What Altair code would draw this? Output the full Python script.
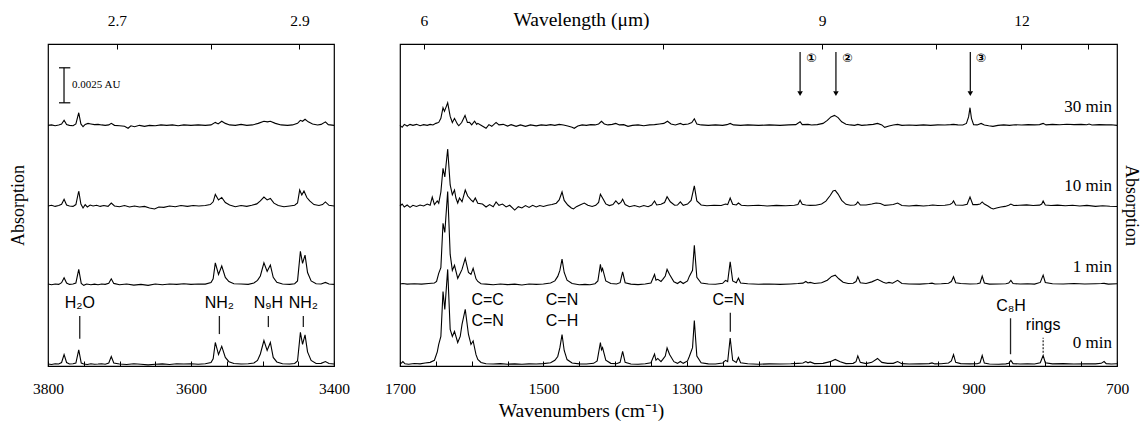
import json
import altair as alt
import pandas as pd

# ---------------- data (absorbance in 1e-4 AU) ----------------
left_0min = [(3800, 0.3), (3795, 0.0), (3790, 0.5), (3785, 0.3), (3781, 1.4), (3777.5, 7.1), (3774, 1.4), (3770, 0.3),
             (3765, 0.5), (3761, 1.0), (3757, 10.4), (3753.5, 1.0), (3750, 0.3), (3745, 0.0), (3740, 0.5), (3735, 0.2),
             (3730, 0.3), (3725, 0.5), (3720, 0.2), (3715, 1.0), (3711.5, 5.7), (3708, 1.0), (3700, 0.3), (3690, 0.0),
             (3680, 0.5), (3670, 0.2), (3660, -0.3), (3650, 0.2), (3640, 0.4), (3630, 0.0), (3620, 0.5), (3610, 0.3),
             (3600, 0.5), (3590, 0.2), (3580, 0.5), (3572, 1.4), (3569, 4.0), (3566, 15.7), (3561.5, 7.1), (3557, 12.9),
             (3552, 5.0), (3547, 2.0), (3540, 0.7), (3530, 0.3), (3520, 0.5), (3512, 1.0), (3507, 2.9), (3503, 7.5),
             (3498, 17.1), (3493.5, 10.0), (3489, 15.7), (3485, 5.0), (3480, 1.8), (3472, 0.5), (3462, 0.3), (3455, 0.7),
             (3451, 2.5), (3447, 22.9), (3444, 14.3), (3440.5, 21.1), (3437, 9.0), (3432, 2.9), (3425, 0.7), (3418, 0.8),
             (3412, 2.1), (3407, 0.7), (3400, 0.3)]
left_1min = [(3800, 0.3), (3795, -0.3), (3790, 0.3), (3785, 0.0), (3781, 1.2), (3777.5, 4.8), (3774, 1.0), (3770, 0.0),
             (3765, 0.3), (3761, 1.0), (3757, 10.7), (3753.5, 0.7), (3750, -0.7), (3746, 0.3), (3740, -0.3), (3735, 0.2),
             (3730, -0.3), (3725, 0.3), (3720, 0.0), (3715, 0.8), (3711.5, 4.0), (3708, 0.7), (3700, -0.3), (3690, 0.3),
             (3680, -0.5), (3670, 0.0), (3660, -0.7), (3650, 0.3), (3640, -0.3), (3630, 0.3), (3620, 0.0), (3610, 0.5),
             (3600, 0.0), (3590, 0.3), (3580, 0.2), (3572, 1.4), (3569, 4.0), (3566, 15.4), (3561.5, 7.1), (3557, 13.1),
             (3552, 5.0), (3547, 2.0), (3540, 0.5), (3530, 0.3), (3520, 0.0), (3512, 1.0), (3507, 2.9), (3503, 6.0),
             (3498, 15.4), (3493.5, 9.3), (3489, 13.8), (3485, 5.0), (3480, 1.5), (3472, 0.3), (3462, 0.0), (3455, 0.5),
             (3451, 2.5), (3447, 23.6), (3444, 15.0), (3440.5, 20.9), (3437, 8.5), (3432, 2.5), (3425, 0.5), (3418, 0.3),
             (3412, 1.4), (3407, 0.3), (3400, 0.0)]
left_10min = [(3800, 0.0), (3795, 0.5), (3790, -0.3), (3785, 0.3), (3781, 1.2), (3777.5, 4.8), (3774, 0.7), (3770, 0.0),
              (3765, -0.3), (3761, 1.0), (3757, 10.7), (3754, 1.4), (3751, -1.4), (3748, 1.0), (3745, -0.7), (3741, 0.7),
              (3737, 0.0), (3732, 0.5), (3727, -0.3), (3722, 0.3), (3716, -0.3), (3711.5, 2.1), (3707, 0.0), (3700, -0.5),
              (3693, 0.3), (3686, -0.7), (3679, 0.0), (3672, -0.7), (3665, -0.3), (3658, -1.4), (3651, -2.1), (3645, -0.7),
              (3638, -1.0), (3630, 0.0), (3622, -0.5), (3614, 0.3), (3605, -0.3), (3597, 0.3), (3589, 0.0), (3580, 0.3),
              (3573, 1.0), (3569, 3.0), (3566, 8.3), (3561.5, 4.3), (3557, 6.1), (3552, 2.5), (3546, 0.7), (3538, -0.5),
              (3530, 0.3), (3522, -0.3), (3515, 0.5), (3508, 1.5), (3503, 3.6), (3498, 6.4), (3493.5, 4.3), (3489, 5.4),
              (3484, 2.0), (3478, 0.3), (3470, -0.5), (3462, 0.0), (3455, 0.5), (3451, 2.1), (3448, 11.4), (3445, 7.9),
              (3442, 10.7), (3438, 6.0), (3434, 3.6), (3428, 1.0), (3421, 0.3), (3416, 1.0), (3412, 2.9), (3407, 0.5),
              (3400, 0.0)]
left_30min = [(3800, 0.0), (3795, 0.3), (3790, -0.3), (3785, 0.3), (3781, 1.0), (3777.5, 3.6), (3774, 0.5), (3770, 0.0),
              (3765, -0.3), (3761, 1.0), (3757, 9.0), (3754, 1.0), (3751, -1.0), (3748, 0.7), (3744, 1.4), (3740, 1.0),
              (3735, 0.5), (3730, 0.7), (3725, 0.3), (3720, 0.0), (3715, 0.3), (3711.5, 1.4), (3707, 0.0), (3700, -0.3),
              (3693, -0.7), (3688, -2.1), (3684, -0.3), (3679, -1.0), (3672, 0.0), (3665, -0.7), (3658, 0.0), (3650, -0.3),
              (3642, 0.3), (3634, 0.0), (3626, 0.3), (3618, -0.3), (3610, 0.3), (3600, 0.0), (3590, 0.3), (3580, 0.0),
              (3572, 0.3), (3566, 2.1), (3562, 1.0), (3557, 2.9), (3552, 1.4), (3546, 0.3), (3538, 0.0), (3530, 0.7),
              (3522, 0.0), (3514, 0.3), (3506, 1.4), (3498, 2.9), (3493, 2.5), (3489, 2.9), (3482, 1.4), (3474, 0.3),
              (3465, 0.0), (3458, 0.3), (3451, 1.4), (3447, 3.6), (3444, 2.9), (3440.5, 4.3), (3436, 2.5), (3430, 1.0),
              (3423, 0.3), (3418, 0.7), (3412, 2.5), (3408, 0.5), (3400, 0.0)]

right_0min = [(1700, 0.5), (1698, 1.0), (1696, 2.1), (1693, 0.5), (1688, 0.2), (1680, 0.7), (1672, 0.4), (1665, 1.0),
              (1658, 1.5), (1652, 3.0), (1648, 9.0), (1646, 14.3), (1643, 20.0), (1640, 52.1), (1637.5, 39.3),
              (1633.5, 67.9), (1630, 25.0), (1627, 20.0), (1624, 23.6), (1619.5, 15.7), (1616, 20.0), (1613.5, 28.6),
              (1609, 39.3), (1604.5, 21.4), (1601, 14.3), (1598, 16.8), (1594, 7.0), (1591.5, 3.6), (1587, 1.4),
              (1580, 0.5), (1570, 0.3), (1560, 0.6), (1550, 0.2), (1540, 0.4), (1530, 0.2), (1520, 0.4), (1510, 0.3),
              (1500, 0.6), (1490, 1.2), (1484, 3.0), (1480, 5.7), (1477, 12.0), (1474, 21.4), (1471, 10.0), (1467, 3.5),
              (1460, 1.0), (1450, 0.4), (1440, 0.3), (1430, 0.8), (1425, 2.5), (1420.5, 15.7), (1419, 10.5),
              (1417.5, 12.1), (1413, 3.0), (1406, 0.8), (1398, 0.5), (1393, 1.5), (1389.5, 9.3), (1386, 1.5), (1378, 0.3),
              (1368, 0.2), (1358, 0.5), (1350, 1.2), (1345, 7.5), (1343, 3.0), (1340.5, 4.3), (1336, 2.0), (1333.5, 3.6),
              (1330, 6.0), (1327.5, 11.8), (1324, 7.1), (1318, 2.0), (1313, 0.8), (1309, 2.1), (1305, 0.8), (1299, 2.5),
              (1296.5, 5.7), (1292, 12.0), (1289.5, 31.4), (1286, 6.0), (1280, 1.2), (1270, 0.4), (1260, 0.3),
              (1250, 1.0), (1246, 2.9), (1243, 2.0), (1239.5, 18.9), (1236, 3.0), (1231, 1.5), (1228, 5.0), (1225, 1.2),
              (1215, 0.5), (1200, 0.2), (1185, 0.4), (1170, 0.3), (1155, 0.5), (1145, 0.8), (1138, 1.0), (1134, 2.1),
              (1131, 1.2), (1128, 1.8), (1122, 0.6), (1110, 0.8), (1100, 2.0), (1093, 3.6), (1086, 2.0), (1078, 0.6),
              (1068, 0.8), (1064, 2.0), (1061.5, 6.1), (1058, 1.5), (1050, 0.6), (1042, 1.5), (1034, 4.3), (1028, 1.5),
              (1020, 0.8), (1012, 0.8), (1006, 2.1), (1000, 0.6), (990, 0.3), (975, 0.4), (962, 0.6), (958, 1.1),
              (954, 0.4), (945, 0.5), (935, 1.0), (931, 2.5), (928, 7.1), (925, 1.5), (918, 0.6), (905, 0.4), (895, 0.5),
              (891, 1.2), (888, 6.4), (885, 1.0), (878, 0.3), (865, 0.2), (855, 0.4), (851, 0.8), (848, 2.9), (845, 0.6),
              (835, 0.3), (825, 0.5), (815, 0.3), (807, 1.2), (803, 6.4), (800, 1.2), (790, 0.4), (775, 0.6), (760, 0.3),
              (745, 0.5), (730, 0.4), (722, 0.8), (718, 2.1), (715, 0.6), (708, 0.3), (700, 0.5)]
right_1min = [(1700, 0.3), (1696, 0.6), (1690, 0.2), (1680, 0.5), (1670, 0.2), (1660, 0.6), (1652, 1.0), (1649, 2.1),
              (1646, 7.9), (1643, 12.0), (1640, 43.6), (1637.5, 37.1), (1633.5, 66.4), (1630, 21.4), (1627, 10.0),
              (1624, 13.6), (1619.5, 4.3), (1616, 8.0), (1613.5, 10.7), (1609, 18.6), (1604.5, 8.6), (1601, 7.1),
              (1598, 11.4), (1594, 4.0), (1591.5, 2.1), (1587, 0.5), (1580, 0.2), (1570, -0.3), (1560, 0.3),
              (1550, -0.2), (1540, 0.2), (1530, -0.4), (1520, 0.3), (1510, 0.0), (1500, 0.3), (1490, 1.0), (1484, 2.5),
              (1480, 5.7), (1477, 10.0), (1474, 18.1), (1471, 8.5), (1467, 3.0), (1460, 0.6), (1450, -0.3), (1442, 0.0),
              (1435, -0.3), (1428, 0.5), (1424, 2.5), (1420.5, 14.3), (1419, 9.5), (1417.5, 11.4), (1413, 2.5),
              (1406, 0.6), (1398, 0.3), (1393, 1.2), (1389.5, 9.0), (1386, 1.2), (1378, 0.2), (1368, -0.2), (1358, 0.3),
              (1350, 1.0), (1345, 7.1), (1343, 3.0), (1340.5, 3.6), (1336, 2.1), (1333.5, 3.6), (1330, 6.0),
              (1327.5, 10.7), (1324, 7.1), (1318, 1.8), (1313, 0.6), (1309, 2.1), (1305, 0.6), (1299, 2.5),
              (1296.5, 5.7), (1292, 10.0), (1289.5, 27.9), (1286, 5.0), (1280, 1.0), (1270, 0.3), (1260, 0.1),
              (1250, 0.8), (1246, 2.9), (1243, 2.0), (1239.5, 16.1), (1236, 2.5), (1231, 1.2), (1228, 4.3), (1225, 1.0),
              (1215, 0.4), (1200, 0.1), (1185, 0.3), (1170, 0.0), (1155, 0.3), (1145, 0.6), (1138, 0.9), (1134, 2.1),
              (1131, 1.0), (1128, 1.4), (1122, 0.6), (1112, 1.2), (1104, 3.0), (1098, 5.7), (1093, 6.6), (1088, 4.0),
              (1082, 1.5), (1075, 0.6), (1068, 0.8), (1064, 2.0), (1061.5, 5.4), (1058, 1.2), (1050, 0.6), (1042, 1.8),
              (1034, 3.6), (1026, 1.5), (1022, 0.8), (1018, 1.4), (1013, 0.8), (1006, 2.9), (1000, 0.6), (990, 0.3),
              (975, 0.2), (962, 0.6), (958, 0.9), (954, 0.3), (945, 0.4), (935, 0.8), (931, 2.0), (928, 5.4), (925, 1.2),
              (918, 0.6), (905, 0.3), (895, 0.4), (891, 1.0), (888, 5.9), (885, 1.0), (878, 0.2), (865, 0.3), (855, 0.5),
              (851, 0.9), (848, 2.9), (845, 0.6), (835, 0.3), (825, 0.5), (815, 0.2), (807, 1.4), (803, 6.6), (800, 1.4),
              (790, 0.5), (775, 0.3), (760, 0.6), (745, 0.3), (730, 0.5), (722, 0.6), (718, 0.7), (712, 0.2), (700, 0.4)]
right_10min = [(1700, 0.0), (1697, 1.4), (1694, -0.7), (1690, 0.7), (1686, -1.0), (1682, 0.5), (1677, -0.3), (1672, 0.7),
               (1667, 0.0), (1662, 1.4), (1658, 0.5), (1655, 6.4), (1652, 1.0), (1648, 3.6), (1646, 2.0), (1643, 10.0),
               (1640, 26.9), (1637.5, 20.7), (1633.5, 40.7), (1630, 15.0), (1627, 8.0), (1624, 11.4), (1622, 5.7),
               (1619.5, 2.1), (1617, 5.7), (1613.5, 3.0), (1609, 11.4), (1605.6, 7.1), (1601, 4.3), (1598, 3.0),
               (1595, 5.7), (1591.5, 2.0), (1585, 1.4), (1580, -0.7), (1575, 1.0), (1570, -0.5), (1566, 2.9), (1562, 0.5),
               (1557, 1.4), (1552, -0.7), (1547, 0.5), (1540, -2.9), (1535, -0.5), (1530, -1.4), (1525, 0.3),
               (1520, -1.0), (1515, 0.5), (1510, -0.7), (1505, 0.3), (1500, -0.4), (1494, 0.5), (1488, 1.0), (1482, 2.0),
               (1478, 4.3), (1474, 10.0), (1471, 4.0), (1466, 0.7), (1461, -1.4), (1458, -2.1), (1454, -0.5), (1449, 0.7),
               (1443, 2.1), (1438, 0.5), (1432, -0.4), (1427, 0.5), (1423, 2.5), (1420.5, 8.4), (1417.5, 5.7),
               (1413, 1.5), (1408, 0.3), (1403, 1.0), (1399, 3.6), (1395, 1.4), (1392, 2.5), (1389.5, 4.8), (1386, 1.0),
               (1380, -0.5), (1373, 0.3), (1366, -0.7), (1360, 0.3), (1354, -0.5), (1349, 0.7), (1345, 3.6), (1342, 0.7),
               (1336, 1.2), (1331, 2.5), (1327.5, 6.6), (1323, 3.0), (1317, 0.5), (1313, 0.7), (1309, 2.9), (1305, 0.5),
               (1299, 1.4), (1294, 4.0), (1289.5, 14.3), (1286, 3.6), (1280, 0.7), (1272, 0.2), (1262, 0.5), (1252, 0.3),
               (1246, 1.4), (1243, 1.0), (1239.5, 5.7), (1236, 1.2), (1231, 0.7), (1228, 2.1), (1224, 0.5), (1215, 0.2),
               (1200, 0.5), (1188, 0.0), (1175, 0.4), (1162, 0.2), (1150, 0.5), (1145, 1.0), (1142, 4.1), (1139, 1.2),
               (1134, 0.7), (1128, 0.4), (1120, 0.5), (1112, 1.4), (1106, 3.5), (1100, 7.5), (1096, 10.7), (1093, 11.2),
               (1089, 8.5), (1084, 4.0), (1078, 1.2), (1072, 0.5), (1066, 0.7), (1064, 1.2), (1061.5, 2.9), (1058, 0.7),
               (1050, 0.7), (1042, 1.4), (1036, 2.1), (1030, 1.8), (1024, 0.4), (1018, 0.7), (1012, 1.0), (1006, 2.1),
               (1000, 0.3), (990, 0.0), (980, 0.4), (970, 0.0), (962, 0.3), (957, 0.7), (950, 0.3), (940, 0.5), (933, 1.0),
               (930, 2.0), (928, 3.6), (925, 0.7), (915, 0.5), (909, 1.2), (905, 6.4), (901, 1.0), (895, 1.0), (891, 1.4),
               (888, 2.9), (885, 1.4), (880, 0.0), (876, -1.4), (872.5, -2.1), (868, -1.4), (862, -0.7), (856, -0.3),
               (851, 0.5), (848, 1.4), (844, 0.3), (836, 0.5), (826, 0.8), (817, 0.3), (808, 0.6), (805, 1.4), (803, 3.6),
               (800, 0.7), (792, 0.3), (783, 0.6), (772, 0.2), (762, 0.5), (752, 0.0), (742, 0.4), (730, -0.3), (720, 0.2),
               (710, -0.2), (700, -0.4)]
right_30min = [(1700, 0.0), (1697, -1.4), (1694, 0.7), (1690, -0.5), (1686, 0.7), (1682, 0.0), (1677, 0.7), (1672, -0.3),
               (1667, 0.5), (1662, 0.0), (1658, 0.7), (1654, 0.3), (1650, 1.4), (1646, 2.1), (1643, 5.0), (1640, 12.6),
               (1638, 10.0), (1633.5, 16.1), (1630, 6.4), (1627, 2.0), (1624, 5.0), (1620, 1.0), (1618, -0.3),
               (1614, 2.0), (1609.3, 7.1), (1606, 2.0), (1603, 2.1), (1600, 0.3), (1596, 2.9), (1593, 0.7),
               (1591.5, 1.4), (1587, 0.0), (1580, -2.1), (1576, 0.5), (1572, -0.7), (1566, 2.1), (1562, 0.3), (1556, 0.7),
               (1550, -0.5), (1545, 0.5), (1538, -0.7), (1532, 0.3), (1525, -0.7), (1518, 0.3), (1510, -0.4), (1503, 0.3),
               (1496, 0.0), (1490, 0.5), (1484, 0.0), (1478, 0.7), (1472, 0.3), (1466, -0.5), (1460, -1.4), (1457, -2.1),
               (1452, -0.5), (1446, 0.3), (1440, 0.0), (1434, 0.5), (1428, 0.3), (1423, 1.0), (1419, 2.9), (1415, 1.0),
               (1410, 0.3), (1404, 0.7), (1399, 1.4), (1394, 0.3), (1388, 0.5), (1382, -0.7), (1376, 0.0), (1368, 0.3),
               (1360, -0.3), (1352, 0.3), (1345, 0.5), (1338, 1.0), (1332, 1.4), (1327, 2.9), (1322, 1.0), (1316, 0.3),
               (1309, 1.4), (1305, 0.5), (1298, 1.0), (1293, 2.0), (1289.5, 4.7), (1286, 1.0), (1280, 0.3), (1270, 0.0),
               (1260, 0.3), (1250, 0.0), (1244, 0.5), (1239.5, 1.4), (1235, 0.3), (1225, 0.0), (1215, 0.3), (1200, 0.0),
               (1185, 0.3), (1170, 0.0), (1158, 0.3), (1148, 0.5), (1142, 2.6), (1139, 0.5), (1131, 0.7), (1126, 0.2),
               (1118, 0.5), (1110, 1.4), (1104, 3.5), (1099, 6.0), (1094, 7.1), (1089, 5.5), (1084, 2.5), (1078, 0.8),
               (1072, 0.3), (1066, 0.0), (1061.5, 0.7), (1056, 0.0), (1048, 0.3), (1040, 0.7), (1034, 1.4), (1028, 0.3),
               (1024, -1.4), (1018, -0.5), (1012, 0.2), (1006, 0.7), (1000, 0.0), (990, 0.2), (980, 0.0), (970, 0.3),
               (960, 0.0), (950, 0.3), (940, 0.2), (932, 0.5), (928, 0.7), (922, 0.3), (915, 0.2), (910, 1.4), (907, 6.0),
               (905, 12.6), (903, 5.0), (900, 0.5), (895, 0.3), (889.5, 1.4), (885, 0.3), (879, -0.3), (873, -0.7),
               (866, 0.0), (858, 0.3), (850, 0.0), (842, 0.4), (833, 0.2), (824, 0.5), (815, 0.3), (808, 0.5), (803, 1.4),
               (799, 0.3), (790, 0.7), (780, 0.4), (770, 0.8), (760, 0.5), (750, 0.7), (742, 0.4), (739, 0.9), (735, 0.2),
               (725, 0.5), (715, 0.3), (708, 0.4), (700, 0.0)]

# vertical offsets of the stacked spectra (1e-4 AU)
trace_names = ["0 min", "1 min", "10 min", "30 min"]
trace_offsets = [1.1, 58.3, 114.3, 171.9]

# axes
left_domain = [3400, 3800]
right_domain = [700, 1700]
y_domain = [0, 230]
left_bottom_ticks = list(range(3400, 3801, 50))
right_bottom_ticks = list(range(700, 1701, 50))
left_wl_ticks = [2.7, 2.8, 2.9]
left_wl_labeled = [2.7, 2.9]
right_wl_ticks = [6, 7.5, 9, 10.5, 12, 13.5]
right_wl_labeled = [6, 9, 12]

# scale bar (0.0025 AU = 25 x 1e-4 AU)
scalebar_wn = 3777.6
scalebar_caps = [3784.6, 3768.8]
scalebar_low = 188
scalebar_high = 213
scalebar_text = "0.0025 AU"

# annotations left
left_labels = ["H\u2082O", "NH\u2082", "N\u2089H", "NH\u2082"]
left_label_wn = [3755.6, 3560.3, 3491.8, 3442.9]
left_label_y = [45, 45, 45, 45]
left_line_low = [19.5, 22.8, 27.8, 27.8]
left_line_high = [35.7, 35.7, 35.7, 35.7]

# annotations right
right_labels = ["C=C", "C=N", "C=N", "C\u2212H", "C=N", "C\u2088H", "rings"]
right_label_wn = [1577.7, 1577.7, 1474.1, 1474.1, 1241.6, 847.8, 803]
right_label_y = [46.9, 32.1, 46.9, 32.1, 46.9, 42.8, 29.3]
right_line_wn = [1239.3, 848.5]
right_line_low = [24.5, 8.4]
right_line_high = [38.1, 34.1]
rings_wn = [803]
rings_low = [9.5]
rings_high = [20.2]

time_labels = ["30 min", "10 min", "1 min", "0 min"]
time_label_wn = [707, 707, 707, 707]
time_label_y = [185, 128.5, 70.7, 16.6]

arrow_wn = [1142, 1092, 904.6]
arrow_top = [224.2, 224.2, 224.2]
arrow_bottom = [196.0, 196.0, 196.0]
arrow_head_y = [194.6, 194.6, 194.6]
arrow_labels = ["\u2460", "\u2461", "\u2462"]
arrow_label_wn = [1125.8, 1075.6, 889.7]
arrow_label_y = [220.1, 220.1, 220.1]

# ---------------- build ----------------
SERIF = "Liberation Serif"
SANS = "Liberation Sans"


def spectra_frame(traces):
    rows = []
    for name, off, pts in zip(trace_names, trace_offsets, traces):
        for wn, a in pts:
            rows.append({"wn": wn, "absorb": a, "trace": name, "y": a + off})
    return pd.DataFrame(rows)


left_df = spectra_frame([left_0min, left_1min, left_10min, left_30min])
right_df = spectra_frame([right_0min, right_1min, right_10min, right_30min])


def xscale(dom):
    return alt.Scale(domain=dom, reverse=True, nice=False, zero=False)


yscale = alt.Scale(domain=y_domain, nice=False, zero=False)


def bottom_axis(values, base, title=None, title_x=None):
    kw = dict(orient="bottom", values=values, format="d",
              labelExpr=f"(datum.value - {base}) % 200 == 0 ? datum.label : ''",
              offset=-5, tickSize=5, tickWidth=1, tickColor="black", domain=False, grid=False,
              labelFont=SERIF, labelFontSize=15.5, labelColor="black", labelPadding=15.5,
              labelOverlap=False, labelFlush=False)
    if title:
        kw.update(title=title, titleX=title_x, titleY=49, titleBaseline="middle", titleFont=SERIF,
                  titleFontSize=19.5, titleFontWeight="normal", titleColor="black")
    else:
        kw.update(title=None)
    return alt.Axis(**kw)


def top_axis(wls, labeled, title=None, title_x=None):
    expr = (f"indexof({json.dumps(labeled)}, round(100000/datum.value)/10) >= 0 ? "
            f"'' + (round(100000/datum.value)/10) : ''")
    kw = dict(orient="top", values=[10000.0 / w for w in wls], labelExpr=expr,
              offset=-5, tickSize=5, tickWidth=1, tickColor="black", domain=False, grid=False,
              labelFont=SERIF, labelFontSize=15.5, labelColor="black", labelPadding=15.5,
              labelOverlap=False, labelFlush=False)
    if title:
        kw.update(title=title, titleX=title_x, titleY=-30, titleBaseline="middle", titleFont=SERIF,
                  titleFontSize=19.5, titleFontWeight="normal", titleColor="black")
    else:
        kw.update(title=None)
    return alt.Axis(**kw)


def panel(df, dom, btm_ticks, base, wls, labeled, yaxis, btitle=None, ttitle=None, tx=None):
    lines = alt.Chart(df).mark_line(color="black", strokeWidth=1.1).encode(
        x=alt.X("wn:Q", scale=xscale(dom), axis=bottom_axis(btm_ticks, base, btitle, tx)),
        y=alt.Y("y:Q", scale=yscale, axis=yaxis),
        detail="trace:N",
        order="wn:Q",
    )
    topl = alt.Chart(pd.DataFrame({"wn": [10000.0 / w for w in wls]})).mark_rule(opacity=0).encode(
        x=alt.X("wn:Q", scale=xscale(dom), axis=top_axis(wls, labeled, ttitle, tx)),
    )
    return lines, topl


def xa(field="wn"):
    return alt.X(f"{field}:Q", axis=None)


def ya(field):
    return alt.Y(f"{field}:Q", axis=None)


# ---- left panel ----
left_yaxis = alt.Axis(orient="left", title="Absorption", labels=False, ticks=False, domain=False, grid=False,
                      titleFont=SERIF, titleFontSize=18, titleFontWeight="normal", titleColor="black",
                      titlePadding=21)
l_lines, l_top = panel(left_df, left_domain, left_bottom_ticks, 3400, left_wl_ticks, left_wl_labeled, left_yaxis)

sb = pd.DataFrame({"wn": [scalebar_wn], "lo": [scalebar_low], "hi": [scalebar_high]})
sb_rule = alt.Chart(sb).mark_rule(color="black", strokeWidth=1.2).encode(x=xa(), y=ya("lo"), y2="hi:Q")
caps = pd.DataFrame({"a": [scalebar_caps[0]] * 2, "b": [scalebar_caps[1]] * 2, "yy": [scalebar_low, scalebar_high]})
sb_caps = alt.Chart(caps).mark_rule(color="black", strokeWidth=1.2).encode(x=xa("a"), x2="b:Q", y=ya("yy"))
sb_text = alt.Chart(pd.DataFrame({"wn": [scalebar_caps[1] - 2.5], "yy": [(scalebar_low + scalebar_high) / 2],
                                  "t": [scalebar_text]})).mark_text(
    align="left", baseline="middle", font=SERIF, fontSize=11, color="black").encode(x=xa(), y=ya("yy"), text="t:N")

ll = pd.DataFrame({"wn": left_label_wn, "yy": left_label_y, "t": left_labels,
                   "lo": left_line_low, "hi": left_line_high})
l_text = alt.Chart(ll).mark_text(align="center", baseline="middle", font=SANS, fontSize=16, color="black").encode(
    x=xa(), y=ya("yy"), text="t:N")
l_marks = alt.Chart(ll).mark_rule(color="#222", strokeWidth=1.3).encode(x=xa(), y=ya("lo"), y2="hi:Q")

left = alt.layer(l_lines, l_top, sb_rule, sb_caps, sb_text, l_text, l_marks).resolve_axis(
    x="independent", y="independent").properties(width=286, height=322)

# ---- right panel ----
right_yaxis = alt.Axis(orient="right", title="Absorption", labels=False, ticks=False, domain=False, grid=False,
                       titleFont=SERIF, titleFontSize=18, titleFontWeight="normal", titleColor="black",
                       titleAngle=90, titlePadding=4)
r_lines, r_top = panel(right_df, right_domain, right_bottom_ticks, 700, right_wl_ticks, right_wl_labeled,
                       right_yaxis, btitle="Wavenumbers (cm\u207b\u00b9)", ttitle="Wavelength (\u03bcm)", tx=181)

rl = pd.DataFrame({"wn": right_label_wn, "yy": right_label_y, "t": right_labels})
r_text = alt.Chart(rl).mark_text(align="center", baseline="middle", font=SANS, fontSize=16, color="black").encode(
    x=xa(), y=ya("yy"), text="t:N")
rm = pd.DataFrame({"wn": right_line_wn, "lo": right_line_low, "hi": right_line_high})
r_marks = alt.Chart(rm).mark_rule(color="#222", strokeWidth=1.3).encode(x=xa(), y=ya("lo"), y2="hi:Q")
rg = pd.DataFrame({"wn": rings_wn, "lo": rings_low, "hi": rings_high})
r_rings = alt.Chart(rg).mark_rule(color="#222", strokeWidth=1.2, strokeDash=[2, 1.5]).encode(
    x=xa(), y=ya("lo"), y2="hi:Q")

tl = pd.DataFrame({"wn": time_label_wn, "yy": time_label_y, "t": time_labels})
t_text = alt.Chart(tl).mark_text(align="right", baseline="middle", font=SERIF, fontSize=17, color="black").encode(
    x=xa(), y=ya("yy"), text="t:N")

ar = pd.DataFrame({"wn": arrow_wn, "top": arrow_top, "bot": arrow_bottom, "hy": arrow_head_y})
a_rule = alt.Chart(ar).mark_rule(color="black", strokeWidth=1.2).encode(x=xa(), y=ya("top"), y2="bot:Q")
a_head = alt.Chart(ar).mark_point(shape="triangle-down", filled=True, color="black", size=30, opacity=1).encode(
    x=xa(), y=ya("hy"))
al = pd.DataFrame({"wn": arrow_label_wn, "yy": arrow_label_y, "t": arrow_labels})
a_text = alt.Chart(al).mark_text(align="center", baseline="middle", font="DejaVu Sans", fontSize=12,
                                 fontWeight="bold", color="black").encode(x=xa(), y=ya("yy"), text="t:N")

right = alt.layer(r_lines, r_top, r_text, r_marks, r_rings, t_text, a_rule, a_head, a_text).resolve_axis(
    x="independent", y="independent").properties(width=717, height=322)

chart = alt.hconcat(left, right, spacing=66, bounds="flush").properties(
    padding={"left": 0, "top": 0, "right": 0, "bottom": 0}, background="white"
).configure_view(stroke="black", strokeWidth=1.2)

chart.save("out.html", embed_options={"renderer": "svg", "actions": False})
